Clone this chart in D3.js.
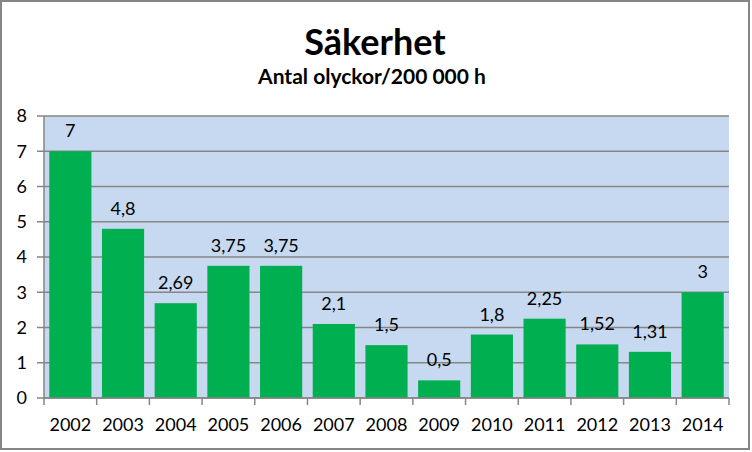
<!DOCTYPE html>
<html><head><meta charset="utf-8">
<script src="https://cdn.jsdelivr.net/npm/d3@7/dist/d3.min.js"></script>
<style>body{margin:0;background:#fff}svg{display:block}</style>
</head><body>
<svg id="c" width="752" height="452"></svg>
<script>
const categories = ["2002","2003","2004","2005","2006","2007","2008","2009","2010","2011","2012","2013","2014"];
const values = [7, 4.8, 2.69, 3.75, 3.75, 2.1, 1.5, 0.5, 1.8, 2.25, 1.52, 1.31, 3];
const yTicks = [0,1,2,3,4,5,6,7,8];
const title = "Säkerhet";
const subtitle = "Antal olyckor/200 000 h";

const svg = d3.select("#c");
const F = "Lato, 'Open Sans', sans-serif";
const L = 44, R = 729, T = 116, B = 398;

svg.append("rect").attr("x",1).attr("y",1).attr("width",748).attr("height",448)
  .attr("fill","#fff").attr("stroke","#868686").attr("stroke-width",2);

const x = d3.scaleBand().domain(categories).range([L,R]).paddingInner(0.2).paddingOuter(0.1);
const xb = d3.scaleBand().domain(categories).range([L,R]);
const y = d3.scaleLinear().domain([0,8]).range([B,T]);

svg.append("rect").attr("x",L).attr("y",T).attr("width",R-L).attr("height",B-T).attr("fill","#c6d9f1");

const g = svg.append("g");
g.selectAll(".grid").data(yTicks).join("line")
  .attr("x1",L-7).attr("x2",R).attr("y1",d=>y(d)).attr("y2",d=>y(d))
  .attr("stroke","#868686").attr("stroke-width",1.5);

g.selectAll(".bar").data(values).join("rect")
  .attr("x",(d,i)=>x(categories[i])).attr("width",x.bandwidth())
  .attr("y",d=>y(d)).attr("height",d=>y(0)-y(d)).attr("fill","#00b050");

svg.append("line").attr("x1",L).attr("x2",L).attr("y1",T).attr("y2",B).attr("stroke","#868686").attr("stroke-width",1.5);
svg.append("line").attr("x1",L).attr("x2",R).attr("y1",B).attr("y2",B).attr("stroke","#868686").attr("stroke-width",1.5);
const bounds = categories.map(c=>xb(c)).concat([R]);
svg.selectAll(".xt").data(bounds).join("line")
  .attr("x1",d=>d).attr("x2",d=>d).attr("y1",B).attr("y2",B+7).attr("stroke","#868686").attr("stroke-width",1.5);

svg.selectAll(".yl").data(yTicks).join("text")
  .attr("x",27).attr("y",d=>y(d)).attr("dy","0.36em").attr("text-anchor","end")
  .attr("font-family",F).attr("font-size",18).attr("fill","#000").text(d=>d);

svg.selectAll(".xl").data(categories).join("text")
  .attr("x",d=>xb(d)+xb.bandwidth()/2).attr("y",431).attr("text-anchor","middle")
  .attr("font-family",F).attr("font-size",18).attr("fill","#000").text(d=>d);

const fmt = v => String(v).replace(".",",");
svg.selectAll(".dl").data(values).join("text")
  .attr("x",(d,i)=>xb(categories[i])+xb.bandwidth()/2).attr("y",d=>y(d)-14).attr("text-anchor","middle")
  .attr("font-family",F).attr("font-size",18).attr("fill","#000").text(d=>fmt(d));

svg.append("text").attr("x",375).attr("y",55).attr("text-anchor","middle")
  .attr("font-family",F).attr("font-weight","bold").attr("font-size",36).text(title);
svg.append("text").attr("x",372).attr("y",84).attr("text-anchor","middle")
  .attr("font-family",F).attr("font-weight","bold").attr("font-size",21).text(subtitle);
</script>
</body></html>
